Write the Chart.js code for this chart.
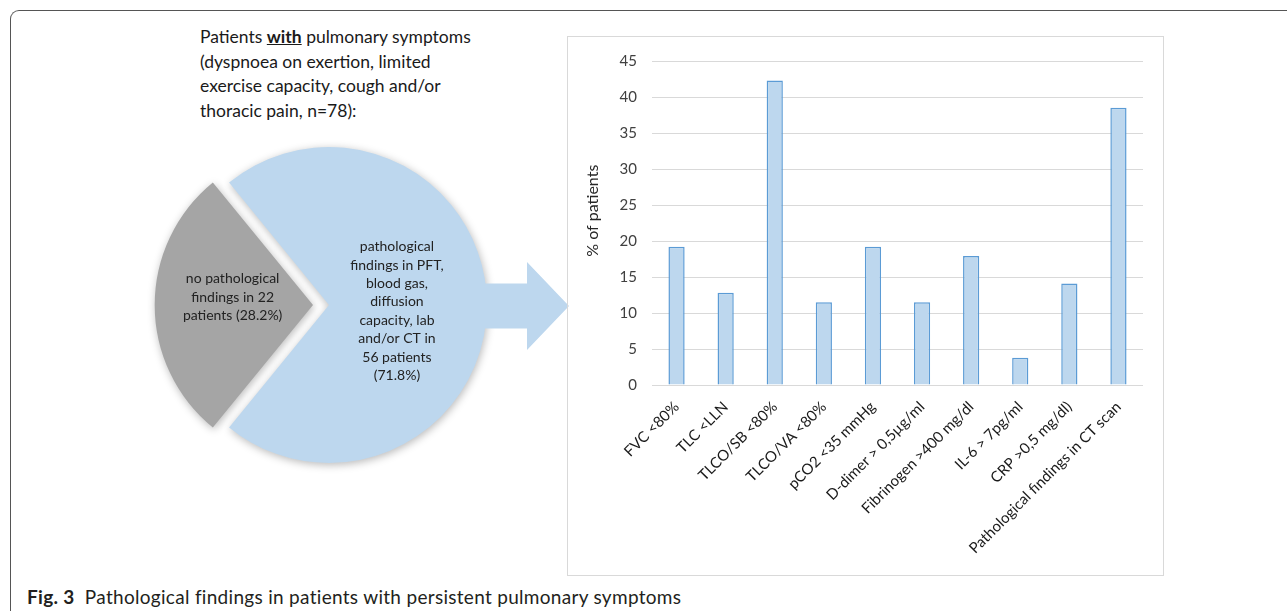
<!DOCTYPE html>
<html>
<head>
<meta charset="utf-8">
<script src="https://cdn.jsdelivr.net/npm/chart.js"></script>
<style>
  body { margin: 0; background: #fff; width: 1287px; height: 613px; overflow: hidden; position: relative; font-family: Lato, sans-serif; }
  #frame { position: absolute; left: 10px; top: 10px; width: 1300px; height: 600px; border-top: 1.5px solid #555; border-left: 1.5px solid #555; border-top-left-radius: 9px; }
  #intro { position: absolute; left: 200px; top: 25px; font-size: 17.5px; line-height: 24.6px; color: #1a1a1a; }
  #intro b { text-decoration: underline; }
  #pieWrap { position: absolute; left: 140px; top: 130px; width: 440px; height: 350px; }
  #barBox { position: absolute; left: 567px; top: 36px; width: 597px; height: 540px; border: 1px solid #d9d9d9; box-sizing: border-box; }
  #barWrap { position: absolute; left: 568px; top: 37px; width: 595px; height: 538px; }
  #caption { position: absolute; left: 27px; top: 586px; font-size: 19px; letter-spacing: 0.3px; line-height: 22px; color: #231f20; white-space: nowrap; }
</style>
</head>
<body>
<div id="frame"></div>
<div id="intro">Patients <b>with</b> pulmonary symptoms<br>(dyspnoea on exertion, limited<br>exercise capacity, cough and/or<br>thoracic pain, n=78):</div>
<div id="pieWrap"><canvas id="pie-chart" width="440" height="350"></canvas></div>
<div id="barBox"></div>
<div id="barWrap"><canvas id="bar-chart" width="595" height="538"></canvas></div>
<div id="caption"><b>Fig. 3</b>&nbsp; Pathological findings in patients with persistent pulmonary symptoms</div>

<script>
// pie: patients with / without findings (n=78)
const pieLabels = ['no pathological findings', 'pathological findings'];
const piePatients = [22, 56];
const pieColors = ['#A5A5A5', '#BDD7EE'];
const pieText = [
  ['no pathological', 'findings in 22', 'patients (28.2%)'],
  ['pathological', 'findings in PFT,', 'blood gas,', 'diffusion', 'capacity, lab', 'and/or CT in', '56 patients', '(71.8%)']
];

// bars: % of patients per finding
const categories = ['FVC <80%', 'TLC <LLN', 'TLCO/SB <80%', 'TLCO/VA <80%', 'pCO2 <35 mmHg',
  'D-dimer > 0,5µg/ml', 'Fibrinogen >400 mg/dl', 'IL-6 > 7pg/ml', 'CRP >0,5 mg/dl)', 'Pathological findings in CT scan'];
const percentPatients = [19.2, 12.8, 42.3, 11.5, 19.2, 11.5, 17.9, 3.8, 14.1, 38.5];
const yTicks = [0, 5, 10, 15, 20, 25, 30, 35, 40, 45];

const pieExtras = {
  id: 'pieExtras',
  beforeDatasetsDraw(chart) {
    const ctx = chart.ctx;
    ctx.save();
    ctx.shadowColor = 'rgba(0,0,0,0.28)';
    ctx.shadowBlur = 8;
    ctx.shadowOffsetX = 1;
    ctx.shadowOffsetY = 2;
  },
  afterDatasetsDraw(chart) {
    const ctx = chart.ctx;
    ctx.restore();
    const arcs = chart.getDatasetMeta(0).data;
    const big = arcs[1];
    // arrow pointing to the bar chart
    const cx = big.x, cy = big.y + 1;
    ctx.save();
    ctx.fillStyle = pieColors[1];
    ctx.beginPath();
    ctx.moveTo(cx + 150, cy - 22.5);
    ctx.lineTo(cx + 198, cy - 22.5);
    ctx.lineTo(cx + 198, cy - 44);
    ctx.lineTo(cx + 240, cy);
    ctx.lineTo(cx + 198, cy + 44);
    ctx.lineTo(cx + 198, cy + 22.5);
    ctx.lineTo(cx + 150, cy + 22.5);
    ctx.closePath();
    ctx.fill();
    ctx.restore();
    // slice labels
    const rFrac = [0.61, 0.43], dy = [-8, 6];
    ctx.save();
    ctx.font = '14px Lato';
    ctx.fillStyle = '#222';
    ctx.textAlign = 'center';
    ctx.textBaseline = 'middle';
    arcs.forEach((a, i) => {
      const mid = (a.startAngle + a.endAngle) / 2;
      const x = a.x + Math.cos(mid) * a.outerRadius * rFrac[i];
      const y = a.y + Math.sin(mid) * a.outerRadius * rFrac[i] + dy[i];
      const lines = pieText[i];
      lines.forEach((t, j) => {
        ctx.fillText(t, x, y + (j - (lines.length - 1) / 2) * 18.4);
      });
    });
    ctx.restore();
  }
};

new Chart(document.getElementById('pie-chart'), {
  type: 'pie',
  data: {
    labels: pieLabels,
    datasets: [{
      data: piePatients,
      backgroundColor: pieColors,
      borderWidth: 0,
      offset: [64, 0],
      radius: 158
    }]
  },
  options: {
    responsive: false,
    animation: false,
    devicePixelRatio: 1,
    rotation: 270 - 360 * piePatients[0] / (piePatients[0] + piePatients[1]) / 2,
    layout: { padding: { left: 0, right: 62, top: 0, bottom: 0 } },
    plugins: { legend: { display: false }, tooltip: { enabled: false } }
  },
  plugins: [pieExtras]
});

new Chart(document.getElementById('bar-chart'), {
  type: 'bar',
  data: {
    labels: categories,
    datasets: [{
      label: '% of patients',
      data: percentPatients,
      backgroundColor: '#BDD7EE',
      borderColor: '#5B9BD5',
      borderWidth: 1.5,
      barPercentage: 0.33,
      categoryPercentage: 1
    }]
  },
  options: {
    responsive: false,
    animation: false,
    devicePixelRatio: 1,
    layout: { padding: { left: 0, right: 20, top: 20, bottom: 0 } },
    plugins: { legend: { display: false }, tooltip: { enabled: false } },
    scales: {
      x: {
        grid: { display: false },
        border: { display: false },
        ticks: { autoSkip: false, maxRotation: 45, minRotation: 45, padding: 5, color: '#1a1a1a', font: { family: 'Lato', size: 15 } },
        afterFit: s => { s.height = 190; }
      },
      y: {
        min: 0,
        max: 45,
        afterBuildTicks: s => { s.ticks = yTicks.map(v => ({ value: v })); },
        grid: { color: '#d9d9d9', lineWidth: 1, drawTicks: false },
        border: { display: false },
        ticks: { padding: 15, color: '#404040', font: { family: 'Lato', size: 15 } },
        // leading spaces lift the title a little above the axis centre, as in the original
        title: { display: true, text: '      % of patients', color: '#262626', font: { family: 'Lato', size: 16 }, padding: { top: 15, bottom: 0 } },
        afterFit: s => { s.width = 84; }
      }
    }
  }
});
</script>
</body>
</html>
